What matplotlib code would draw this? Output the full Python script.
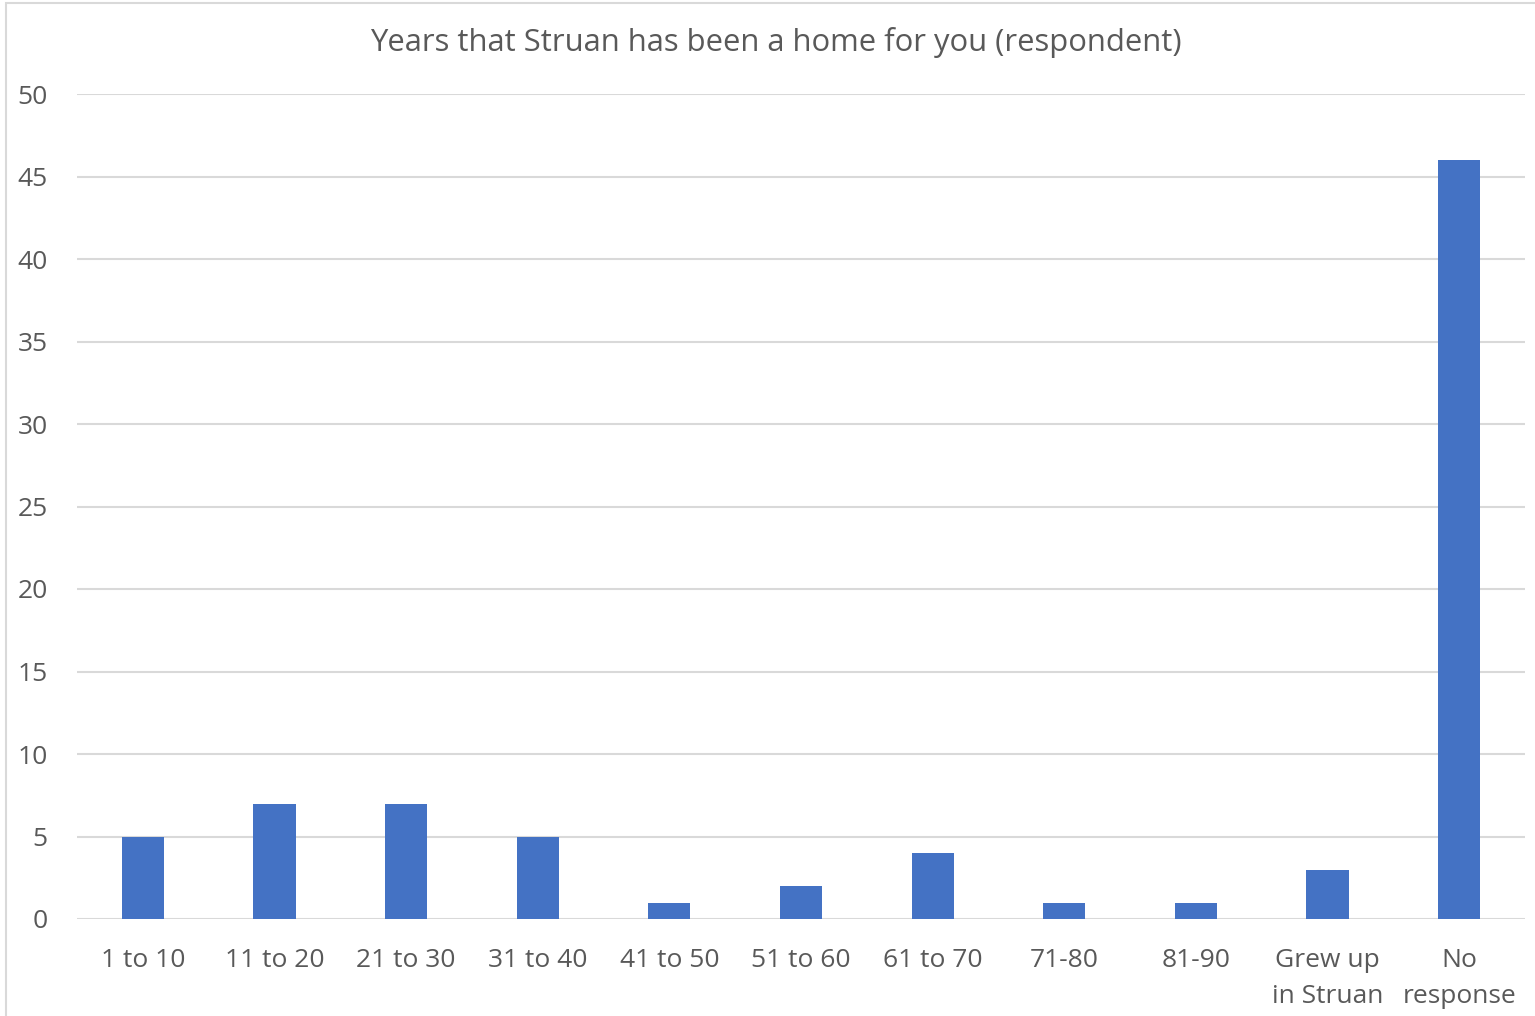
import matplotlib
matplotlib.use("Agg")
import matplotlib.pyplot as plt
from matplotlib.patches import Rectangle

categories = ["1 to 10", "11 to 20", "21 to 30", "31 to 40", "41 to 50", "51 to 60",
              "61 to 70", "71-80", "81-90", "Grew up\nin Struan", "No\nresponse"]
values = [5, 7, 7, 5, 1, 2, 4, 1, 1, 3, 46]
yticks = [0, 5, 10, 15, 20, 25, 30, 35, 40, 45, 50]
title = "Years that Struan has been a home for you (respondent)"

plt.rcParams['font.family'] = ['Open Sans', 'DejaVu Sans']
gray = "#595959"

fig = plt.figure(figsize=(15.35, 10.16), dpi=100)
fig.patches.append(Rectangle((6/1535, -0.05), 1.2, 1.05 - 3/1016, transform=fig.transFigure,
                             fill=False, edgecolor="#d9d9d9", linewidth=1.5))
ax = fig.add_axes([77/1535, 97/1016, (1525-77)/1535, (919-94)/1016])

x = list(range(len(categories)))
ax.bar(x, values, width=0.32, color="#4472C4", zorder=3)
ax.set_xlim(-0.5, len(categories) - 0.5)
ax.set_ylim(0, 50)
ax.set_yticks(yticks)
ax.set_xticks(x)
ax.set_xticklabels(categories, fontsize=19, color=gray, linespacing=1.55)
ax.set_yticklabels([str(t) for t in yticks], fontsize=19, color=gray)
ax.tick_params(axis='both', length=0)
ax.tick_params(axis='x', pad=21)
ax.tick_params(axis='y', pad=21)
for s in ax.spines.values():
    s.set_visible(False)
ax.grid(axis='y', color="#d9d9d9", linewidth=1.5, zorder=0)
ax.set_axisbelow(True)
fig.text(776/1535, 1 - 42/1016, title, ha='center', va='center', fontsize=22.3, color=gray)

fig.savefig("out.png", dpi=100)
